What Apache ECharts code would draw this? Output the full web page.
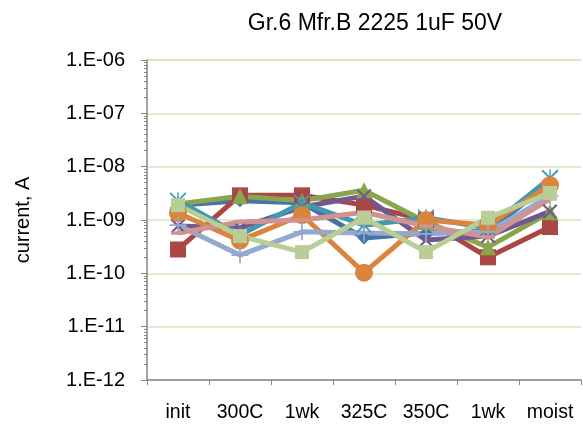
<!DOCTYPE html>
<html>
<head>
<meta charset="utf-8">
<script src="https://cdn.jsdelivr.net/npm/echarts@6/dist/echarts.min.js"></script>
<style>
  html, body { margin: 0; padding: 0; background: #fff; }
  #chart { width: 583px; height: 426px; }
</style>
</head>
<body>
<div id="chart"></div>
<script>
// Leakage current per stage, one array per part
const categories = ['init', '300C', '1wk', '325C', '350C', '1wk', 'moist'];

const part1 = [1.9e-9, 2.3e-9, 2.1e-9, 4.6e-10, 5.7e-10, 6.2e-10, 4.9e-9];
const part2 = [2.8e-10, 2.9e-9, 2.9e-9, 1.9e-9, 1.0e-9, 2.0e-10, 7.4e-10];
const part3 = [2.0e-9, 2.8e-9, 2.3e-9, 3.6e-9, 9.2e-10, 3.1e-10, 1.4e-9];
const part4 = [7.7e-10, 7.1e-10, 1.75e-9, 2.8e-9, 4.2e-10, 5.0e-10, 1.45e-9];
const part5 = [2.3e-9, 5.2e-10, 2.1e-9, 8.0e-10, 1.1e-9, 7.1e-10, 6.1e-9];
const part6 = [1.35e-9, 4.1e-10, 1.24e-9, 1.03e-10, 1.0e-9, 8.0e-10, 4.5e-9];
const part7 = [8.0e-10, 2.2e-10, 6.0e-10, 5.7e-10, 5.5e-10, 6.0e-10, 2.8e-9];
const part8 = [5.7e-10, 9.2e-10, 1.0e-9, 1.4e-9, 7.7e-10, 4.8e-10, 2.5e-9];
const part9 = [1.9e-9, 5.0e-10, 2.5e-10, 1.1e-9, 2.5e-10, 1.1e-9, 3.2e-9];

// Marker outlines
const X_MARK = 'path://M0,2 L2,0 L10,8 L18,0 L20,2 L12,10 L20,18 L18,20 L10,12 L2,20 L0,18 L8,10 Z';
const STAR_MARK = 'path://M0,1.5 L1.5,0 L10,8.5 L18.5,0 L20,1.5 L11.5,10 L20,18.5 L18.5,20 L10,11.5 L1.5,20 L0,18.5 L8.5,10 Z M9.2,0 L10.8,0 L10.8,20 L9.2,20 Z';
const PLUS_MARK = 'path://M9,0 L11,0 L11,9 L20,9 L20,11 L11,11 L11,20 L9,20 L9,11 L0,11 L0,9 L9,9 Z';
const DASH_MARK = 'path://M0,0 L20,0 L20,5 L0,5 Z';

const seriesDefs = [
  { data: part1, color: '#4572A7', symbol: 'diamond', size: 13 },
  { data: part2, color: '#AA4643', symbol: 'rect', size: 16 },
  { data: part3, color: '#89A54E', symbol: 'triangle', size: 16 },
  { data: part4, color: '#71588F', symbol: X_MARK, size: 15 },
  { data: part5, color: '#4198AF', symbol: STAR_MARK, size: 17 },
  { data: part6, color: '#DB843D', symbol: 'circle', size: 18 },
  { data: part7, color: '#93A9CF', symbol: PLUS_MARK, size: 17 },
  { data: part8, color: '#D19392', symbol: DASH_MARK, size: 14, keep: true },
  { data: part9, color: '#B9CD96', symbol: 'rect', size: 14 }
];

const FONT = 'Liberation Sans, Arial, sans-serif';

const chart = echarts.init(document.getElementById('chart'), null, { renderer: 'canvas' });

chart.setOption({
  animation: false,
  backgroundColor: '#ffffff',
  title: {
    text: 'Gr.6 Mfr.B 2225 1uF 50V',
    left: 370,
    top: 7,
    textAlign: 'center',
    textStyle: { fontFamily: FONT, fontSize: 23, fontWeight: 'normal', color: '#000' }
  },
  grid: { left: 147, right: 2, top: 60, bottom: 46, containLabel: false },
  xAxis: {
    type: 'category',
    data: categories,
    boundaryGap: true,
    axisLine: { lineStyle: { color: '#868686', width: 1.5 } },
    axisTick: { show: true, length: 5, inside: false, lineStyle: { color: '#868686' } },
    axisLabel: { margin: 23, fontFamily: FONT, fontSize: 19.5, color: '#000' },
    splitLine: { show: false }
  },
  yAxis: {
    type: 'log',
    logBase: 10,
    min: 1e-12,
    max: 1e-6,
    name: 'current, A',
    nameLocation: 'middle',
    nameGap: 114,
    nameRotate: 90,
    nameTextStyle: { fontFamily: FONT, fontSize: 20, color: '#000' },
    axisLine: { show: true, lineStyle: { color: '#868686', width: 1.5 } },
    axisTick: { show: true, length: 6, inside: false, lineStyle: { color: '#868686' } },
    minorTick: { show: true, splitNumber: 9, length: 3, lineStyle: { color: '#868686' } },
    axisLabel: {
      margin: 22,
      fontFamily: FONT,
      fontSize: 20,
      color: '#000',
      formatter: function (v) {
        const e = Math.round(Math.log10(v));
        const s = String(Math.abs(e)).padStart(2, '0');
        return '1.E' + (e < 0 ? '-' : '+') + s;
      }
    },
    splitLine: { show: true, lineStyle: { color: '#D7E4BD', width: 1.5 } }
  },
  series: seriesDefs.map(function (d) {
    return {
      type: 'line',
      data: d.data,
      symbol: d.symbol,
      symbolSize: d.size,
      symbolKeepAspect: !!d.keep,
      showAllSymbol: true,
      lineStyle: { color: d.color, width: 5 },
      itemStyle: { color: d.color },
      emphasis: { disabled: true }
    };
  })
});
</script>
</body>
</html>
